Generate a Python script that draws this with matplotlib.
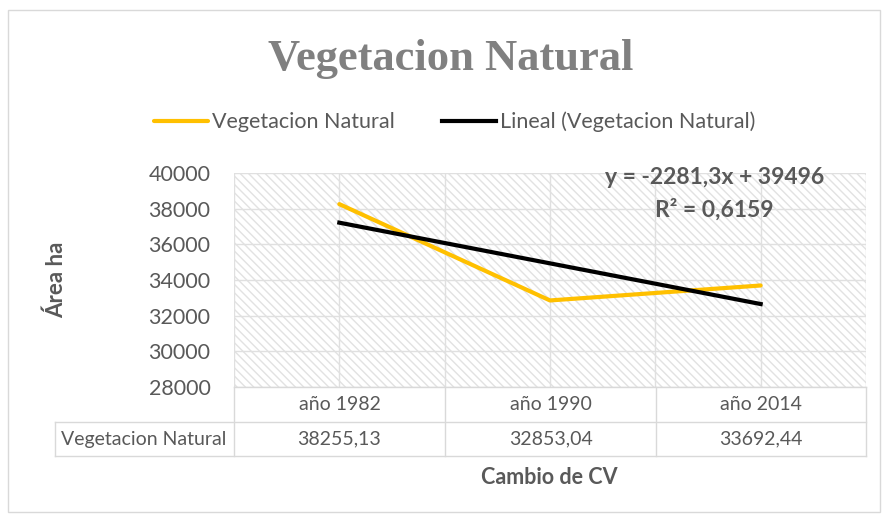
import numpy as np
import matplotlib.pyplot as plt
from matplotlib.patches import Rectangle

# data
years = ['año 1982', 'año 1990', 'año 2014']
area = [38255.13, 32853.04, 33692.44]
area_txt = ['38255,13', '32853,04', '33692,44']
yticks = [28000, 30000, 32000, 34000, 36000, 38000, 40000]

W, H = 883, 516
plt.rcParams['font.family'] = ['Lato', 'DejaVu Sans']
plt.rcParams['hatch.linewidth'] = 1.0
plt.rcParams['hatch.color'] = '#dddddd'

fig = plt.figure(figsize=(W / 100, H / 100), dpi=100)

def fx(px):
    return px / W

def fy(py):
    return 1 - py / H

# outer border
fig.add_artist(Rectangle((fx(8), fy(512)), fx(872), 502 / H, transform=fig.transFigure,
                         fill=False, edgecolor='#d9d9d9', lw=1))

L, R, T, B = 234, 866, 173, 387
ax = fig.add_axes([fx(L), fy(B), fx(R - L), (B - T) / H])
x = np.arange(1, len(area) + 1)
ax.set_xlim(0.5, len(area) + 0.5)
ax.set_ylim(28000, 40000)

ax.add_patch(Rectangle((0, 0), 1, 1, transform=ax.transAxes, facecolor='white',
                       hatch='\\\\\\\\', edgecolor='#e2e2e2', lw=0, zorder=0))
for yv in yticks:
    ax.axhline(yv, color='#e0e0e0', lw=1, zorder=1)
for xv in np.arange(0.5, len(area) + 0.6, 0.5):
    ax.axvline(xv, color='#e0e0e0', lw=1, zorder=1)

ax.plot(x, area, color='#FFC000', lw=3, solid_capstyle='round', zorder=3,
        label='Vegetacion Natural')
b1, b0 = np.polyfit(x, area, 1)
ax.plot(x, b0 + b1 * x, color='black', lw=3, zorder=4,
        label='Lineal (Vegetacion Natural)')
r2 = np.corrcoef(x, area)[0, 1] ** 2

for s in ax.spines.values():
    s.set_visible(False)
ax.set_xticks([])
ax.set_yticks(yticks)
ax.set_yticklabels([str(v) for v in yticks], fontsize=15.5, color='#595959')
ax.tick_params(axis='y', length=0, pad=17)

eq = ('y = %.1fx + %d' % (b1, round(b0))).replace('.', ',')
fig.text(fx(715), fy(178), eq, ha='center', va='center', fontsize=16.5,
         fontweight='bold', color='#595959')
fig.text(fx(714), fy(210), 'R² = %s' % ('%.4f' % r2).replace('.', ','),
         ha='center', va='center', fontsize=16.5, fontweight='bold', color='#595959')

# data table under the axis
gc = '#d9d9d9'
cols = [234, 445, 656, 866]
r0, r1, r2b = 387, 422, 456
for c in cols:
    fig.add_artist(plt.Line2D([fx(c), fx(c)], [fy(r0), fy(r2b)], color=gc, lw=1))
fig.add_artist(plt.Line2D([fx(55), fx(55)], [fy(r1), fy(r2b)], color=gc, lw=1))
fig.add_artist(plt.Line2D([fx(234), fx(866)], [fy(r0), fy(r0)], color=gc, lw=1))
for r in [r1, r2b]:
    fig.add_artist(plt.Line2D([fx(55), fx(866)], [fy(r), fy(r)], color=gc, lw=1))
for i, (yr, v) in enumerate(zip(years, area_txt)):
    cx = (cols[i] + cols[i + 1]) / 2
    fig.text(fx(cx), fy(405), yr, ha='center', va='center', fontsize=14, color='#595959')
    fig.text(fx(cx), fy(439), v, ha='center', va='center', fontsize=14, color='#595959')
fig.text(fx(144), fy(439), 'Vegetacion Natural', ha='center', va='center',
         fontsize=14, color='#595959')

# labels and title
fig.text(fx(56), fy(280), 'Área ha', rotation=90, ha='center', va='center',
         fontsize=16, fontweight='bold', color='#595959')
fig.text(fx(549), fy(477), 'Cambio de CV', ha='center', va='center',
         fontsize=15.5, fontweight='bold', color='#595959')
fig.text(fx(451), fy(70), 'Vegetacion Natural', ha='center', va='baseline',
         fontsize=32, fontweight='bold', color='#808080', family='Liberation Serif')

# legend
leg = fig.legend(loc='center', bbox_to_anchor=(fx(455), fy(122)), ncol=2, frameon=False,
                 fontsize=15.5, handlelength=2.5, handletextpad=0.2, columnspacing=2.2)
for t in leg.get_texts():
    t.set_color('#595959')

fig.savefig('out.png', dpi=100)
